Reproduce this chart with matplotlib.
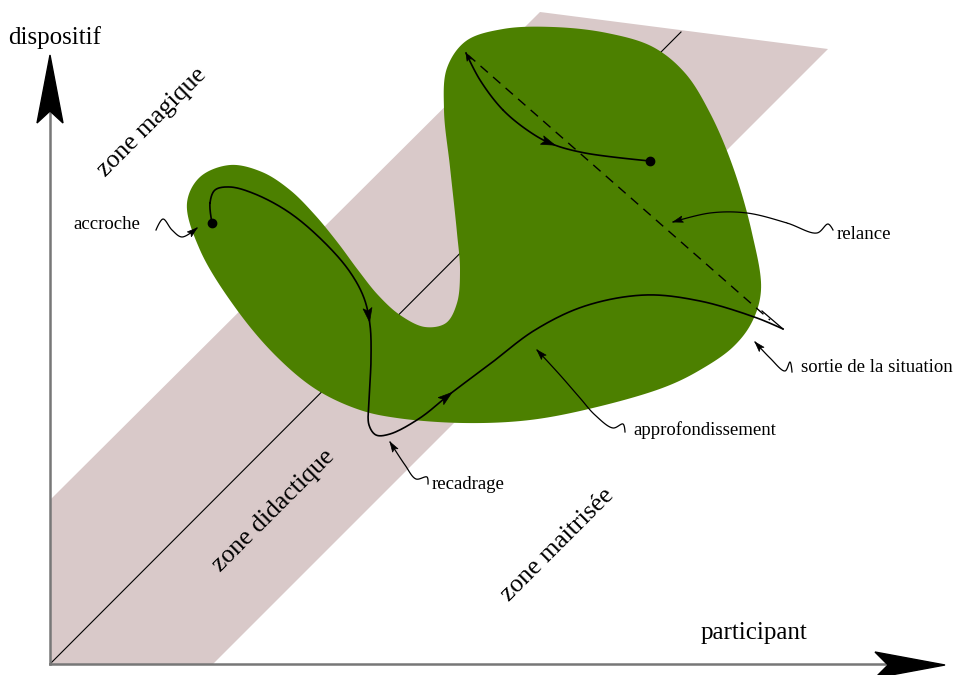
import numpy as np
import matplotlib.pyplot as plt
from matplotlib.patches import Polygon

# canvas in pixels (y goes down)
W, H = 962, 675

# pink band (zone didactique)
band_x = [50, 540, 828, 213, 50]
band_y = [500, 12, 49, 664, 664]

# center line of the band
center_x = [50, 681]
center_y = [664, 32]

# green blob outline
blob_x = [230, 262, 290, 315, 338, 358, 378, 400, 425, 446, 457, 460, 457, 450, 444, 447,
          466, 503, 553, 607, 653, 685, 710, 733, 752, 761, 752, 733, 700, 665, 597, 530,
          463, 397, 360, 317, 277, 237, 200, 187, 200]
blob_y = [165, 172, 190, 215, 243, 270, 295, 315, 327, 323, 303, 270, 233, 167, 110, 68,
          41, 29, 27, 33, 47, 73, 113, 167, 233, 290, 322, 347, 370, 387, 407, 420,
          423, 418, 410, 390, 357, 310, 250, 203, 177]

# main trajectory
main_x = [212, 210, 215, 230, 255, 290, 325, 350, 364, 370, 371, 369, 369, 376, 390, 420,
          450, 490, 535, 585, 645, 700, 757, 783]
main_y = [223, 203, 190, 187, 194, 213, 243, 272, 298, 325, 360, 400, 425, 435, 434, 418,
          394, 364, 330, 306, 295, 301, 318, 329]

# upper trajectory
up_x = [466, 480, 503, 530, 552, 585, 650]
up_y = [53, 80, 110, 132, 144, 153, 161]

# dashed line
dash_x = [468, 770]
dash_y = [55, 320]

# label leaders (from text to arrow tip)
leaders = {
    'accroche': ([156, 163, 172, 182, 197], [230, 219, 230, 237, 228]),
    'relance': ([833, 828, 817, 787, 747, 710, 673], [230, 224, 233, 223, 213, 213, 222]),
    'sortie': ([792, 790, 785, 770, 755], [372, 362, 371, 358, 342]),
    'appro': ([625, 623, 613, 595, 580, 560, 537], [432, 424, 428, 415, 398, 375, 350]),
    'recadrage': ([428, 427, 416, 405, 390], [484, 477, 479, 465, 442]),
}

GREEN = '#4c8000'
PINK = '#d9c9c9'


def catmull(xs, ys, closed=False, n=20):
    pts = np.column_stack([xs, ys]).astype(float)
    if closed:
        p = np.vstack([pts[-1], pts, pts[0], pts[1]])
    else:
        p = np.vstack([pts[0], pts, pts[-1]])
    out = []
    for i in range(1, len(p) - 2):
        p0, p1, p2, p3 = p[i - 1], p[i], p[i + 1], p[i + 2]
        t0 = 0.0
        t1 = t0 + max(np.linalg.norm(p1 - p0), 1e-6) ** 0.5
        t2 = t1 + max(np.linalg.norm(p2 - p1), 1e-6) ** 0.5
        t3 = t2 + max(np.linalg.norm(p3 - p2), 1e-6) ** 0.5
        t = np.linspace(t1, t2, n)[:, None]
        a1 = (t1 - t) / (t1 - t0) * p0 + (t - t0) / (t1 - t0) * p1
        a2 = (t2 - t) / (t2 - t1) * p1 + (t - t1) / (t2 - t1) * p2
        a3 = (t3 - t) / (t3 - t2) * p2 + (t - t2) / (t3 - t2) * p3
        b1 = (t2 - t) / (t2 - t0) * a1 + (t - t0) / (t2 - t0) * a2
        b2 = (t3 - t) / (t3 - t1) * a2 + (t - t1) / (t3 - t1) * a3
        c = (t2 - t) / (t2 - t1) * b1 + (t - t1) / (t2 - t1) * b2
        out.append(c)
    return np.vstack(out)


def head(ax, tip, frm, length=14, width=4.5, notch=3, z=6):
    tip = np.array(tip, float)
    d = tip - np.array(frm, float)
    d /= np.linalg.norm(d)
    nrm = np.array([-d[1], d[0]])
    base = tip - d * length
    pts = [tip, base + nrm * width, tip - d * (length - notch), base - nrm * width]
    ax.add_patch(Polygon(pts, closed=True, fc='black', ec='black', lw=0.5, zorder=z))


def head_on(ax, curve, near, **kw):
    i = np.argmin(np.hypot(curve[:, 0] - near[0], curve[:, 1] - near[1]))
    j = max(i - 4, 0)
    head(ax, curve[i], curve[j], **kw)


fig = plt.figure(figsize=(9.62, 6.75), dpi=100)
ax = fig.add_axes([0, 0, 1, 1])
ax.set_xlim(0, W)
ax.set_ylim(H, 0)
ax.axis('off')

ax.fill(band_x, band_y, color=PINK, lw=0, zorder=1)
ax.plot(center_x, center_y, color='black', lw=0.8, zorder=2)

b = catmull(blob_x, blob_y, closed=True)
ax.fill(b[:, 0], b[:, 1], color=GREEN, lw=0, zorder=3)

# axes
ax.plot([50, 50], [664, 110], color='#777777', lw=1.8, zorder=4)
ax.plot([50, 885], [664, 664], color='#777777', lw=1.8, zorder=4)
ax.add_patch(Polygon([(50, 55), (63, 123), (50, 111), (37, 123)], fc='black', ec='black', zorder=5))
ax.add_patch(Polygon([(945, 665), (875, 652), (888, 665), (875, 678)], fc='black', ec='black', zorder=5))

# main trajectory
m = catmull(main_x, main_y)
ax.plot(m[:, 0], m[:, 1], color='black', lw=1.2, zorder=5)
ax.plot([main_x[0]], [main_y[0]], 'o', color='black', ms=6, zorder=6)
head_on(ax, m, (369, 322))
head_on(ax, m, (453, 392))
ax.plot([762, 783], [311, 329], color='black', lw=0.9, zorder=5)

# upper trajectory
u = catmull(up_x, up_y)
ax.plot(u[:, 0], u[:, 1], color='black', lw=1.2, zorder=5)
ax.plot([up_x[-1]], [up_y[-1]], 'o', color='black', ms=6, zorder=6)
head_on(ax, u, (555, 145))
head(ax, (466, 53), (472, 66), length=8, width=2.5, notch=2)

ax.plot(dash_x, dash_y, color='black', lw=1.0, ls=(0, (7, 5)), zorder=5)

# leaders
for name, (lx, ly) in leaders.items():
    c = catmull(lx, ly, n=12)
    ax.plot(c[:, 0], c[:, 1], color='black', lw=0.9, zorder=5)
    head(ax, (lx[-1], ly[-1]), c[-4], length=10, width=3.2, notch=2)

font = 'Liberation Serif'
ax.text(8, 44, 'dispositif', fontsize=18, family=font, ha='left', va='baseline')
ax.text(701, 639, 'participant', fontsize=18, family=font, ha='left', va='baseline')

ax.text(73, 229, 'accroche', fontsize=13.5, family=font, ha='left', va='baseline')
ax.text(837, 239, 'relance', fontsize=13.5, family=font, ha='left', va='baseline')
ax.text(801, 372, 'sortie de la situation', fontsize=13.5, family=font, ha='left', va='baseline')
ax.text(633, 435, 'approfondissement', fontsize=13.5, family=font, ha='left', va='baseline')
ax.text(432, 489, 'recadrage', fontsize=13.5, family=font, ha='left', va='baseline')

ax.text(152, 122, 'zone magique', fontsize=18.5, family=font, rotation=45,
        rotation_mode='anchor', ha='center', va='center')
ax.text(274, 511, 'zone didactique', fontsize=18.5, family=font, rotation=45,
        rotation_mode='anchor', ha='center', va='center')
ax.text(558, 545, 'zone maitrisée', fontsize=18.5, family=font, rotation=45,
        rotation_mode='anchor', ha='center', va='center')

fig.savefig('out.png', dpi=100)
